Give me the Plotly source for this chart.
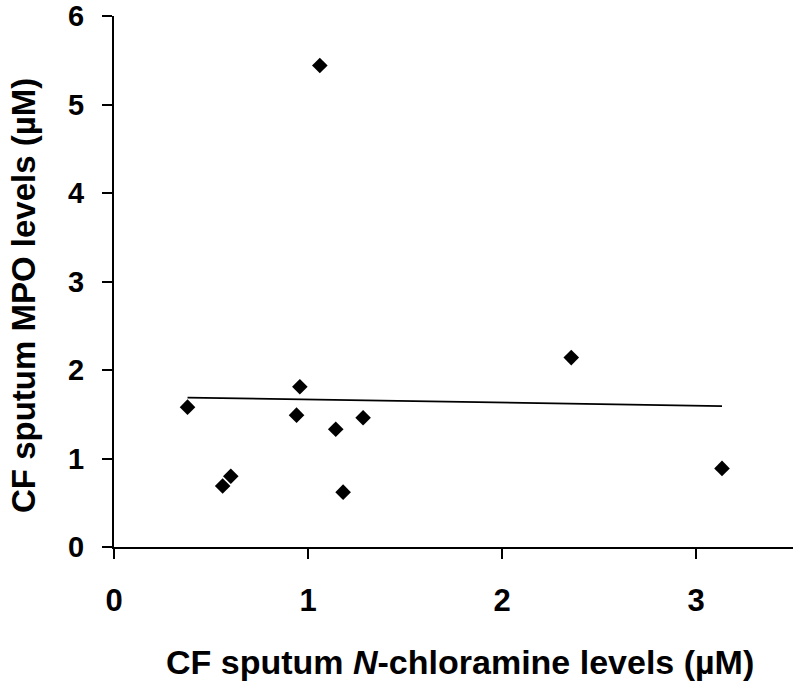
import numpy as np
import plotly.graph_objects as go

# Data
chloramine = [0.379, 0.560, 0.602, 0.958, 0.941, 1.143, 1.284, 1.181, 1.061, 2.357, 3.134]
mpo = [1.58, 0.69, 0.80, 1.81, 1.49, 1.33, 1.46, 0.62, 5.44, 2.14, 0.888]

x_ticks = [0, 1, 2, 3]
y_ticks = [0, 1, 2, 3, 4, 5, 6]

x_title = "CF sputum <i>N</i>-chloramine levels (µM)"
y_title = "CF sputum MPO levels (µM)"

# Linear regression trend line over the data range
slope, intercept = np.polyfit(chloramine, mpo, 1)
fit_x = [min(chloramine), max(chloramine)]
fit_y = [slope * v + intercept for v in fit_x]

W, H = 800, 686
ml, mt = 114, 16
mr = W - 793
mb = H - 547

fig = go.Figure()
fig.add_trace(go.Scatter(x=fit_x, y=fit_y, mode="lines",
                         line=dict(color="black", width=1.8), hoverinfo="skip"))
fig.add_trace(go.Scatter(x=chloramine, y=mpo, mode="markers",
                         marker=dict(symbol="diamond", size=12, color="black",
                                     line=dict(width=0))))

font_family = "Liberation Sans, Arial, sans-serif"

fig.update_layout(
    width=W, height=H,
    margin=dict(l=ml, r=mr, t=mt, b=mb),
    paper_bgcolor="white", plot_bgcolor="white",
    showlegend=False,
    font=dict(family=font_family, color="black"),
)
fig.update_xaxes(range=[0, 3.5], tickvals=x_ticks, ticks="outside", ticklen=10,
                 tickwidth=2, tickcolor="black", showline=True, linecolor="black",
                 linewidth=2, showgrid=False, zeroline=False, automargin=False,
                 tickfont=dict(size=31, family=font_family, weight="bold"),
                 ticklabelstandoff=15)
fig.update_yaxes(range=[0, 6], tickvals=y_ticks, ticks="outside", ticklen=10,
                 tickwidth=2, tickcolor="black", showline=True, linecolor="black",
                 linewidth=2, showgrid=False, zeroline=False, automargin=False,
                 tickfont=dict(size=29, family=font_family, weight="bold"),
                 ticklabelstandoff=12)

pw = W - ml - mr
ph = H - mt - mb
fig.add_annotation(text=x_title, xref="paper", yref="paper",
                   x=(460 - ml) / pw, y=-(662 - (H - mb)) / ph,
                   xanchor="center", yanchor="middle", showarrow=False,
                   font=dict(size=34, family=font_family, weight="bold"))
fig.add_annotation(text=y_title, xref="paper", yref="paper",
                   x=-(ml - 23) / pw, y=((H - mb) - 296) / ph,
                   xanchor="center", yanchor="middle", showarrow=False, textangle=-90,
                   font=dict(size=33, family=font_family, weight="bold"))

fig.write_html("out.html", config={"displayModeBar": False},
               post_script="document.body.style.margin='0';document.body.style.overflow='hidden';")
